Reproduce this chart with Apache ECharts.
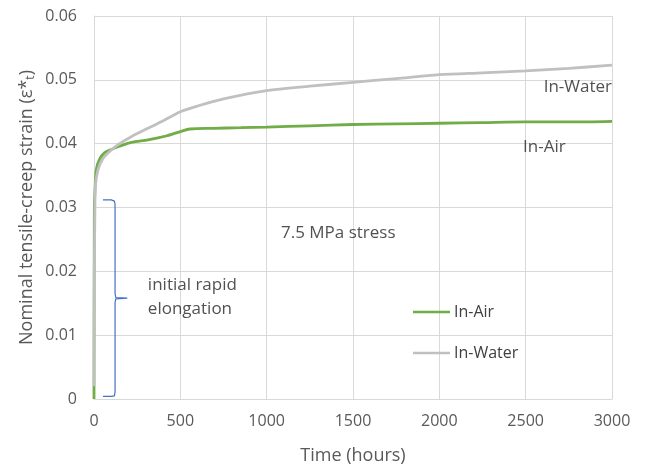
<!DOCTYPE html>
<html>
<head>
<meta charset="utf-8">
<script src="https://cdn.jsdelivr.net/npm/echarts@6/dist/echarts.min.js"></script>
<style>
  html, body { margin: 0; padding: 0; background: #fff; }
  #chart { width: 645px; height: 466px; }
</style>
</head>
<body>
<div id="chart"></div>
<script>
var airTime = [0, 2, 5, 13, 33, 62, 100, 148, 216, 313, 417, 500, 556, 690, 850, 1000, 1250, 1500, 1750, 2000, 2250, 2500, 2750, 3000];
var airStrain = [0, 0.0300, 0.0323, 0.0359, 0.0376, 0.0386, 0.0391, 0.0396, 0.0402, 0.0406, 0.0412, 0.0419, 0.0423, 0.0424, 0.0425, 0.0426, 0.0428, 0.0430, 0.0431, 0.0432, 0.0433, 0.0434, 0.0434, 0.0435];

var waterTime = [0, 2, 5, 8, 23, 52, 100, 148, 216, 313, 409, 500, 600, 750, 1000, 1250, 1500, 1750, 2000, 2250, 2500, 2750, 3000];
var waterStrain = [0.002, 0.020, 0.029, 0.0333, 0.0359, 0.0377, 0.0390, 0.0400, 0.0411, 0.0424, 0.0437, 0.0450, 0.0459, 0.0470, 0.0483, 0.0490, 0.0496, 0.0502, 0.0508, 0.0511, 0.0514, 0.0518, 0.0523];

// brace annotation ("initial rapid elongation"), in data units
var braceTime = [52, 100, 118, 122, 122, 126, 193, 126, 122, 122, 118, 100, 52];
var braceStrain = [0.0312, 0.0312, 0.0310, 0.0305, 0.0165, 0.0159, 0.0158, 0.0157, 0.0151, 0.0011, 0.0005, 0.0004, 0.0004];

// text notes inside the plot
var noteText = ['7.5 MPa stress', 'initial rapid\nelongation', 'In-Water', 'In-Air'];
var noteTime = [1083, 312, 3000, 2485];
var noteStrain = [0.0260, 0.0159, 0.0489, 0.0395];
var noteAlign = ['left', 'left', 'right', 'left'];

var xTicks = [0, 500, 1000, 1500, 2000, 2500, 3000];
var yTicks = [0, 0.01, 0.02, 0.03, 0.04, 0.05, 0.06];

function pairs(xs, ys) {
  return xs.map(function(x, i) { return [x, ys[i]]; });
}

var font = 'Open Sans, Liberation Sans, sans-serif';
var grayText = '#595959';
var gridColor = '#d9d9d9';
var green = '#70ad47';
var gray = '#c0c0c0';

var chart = echarts.init(document.getElementById('chart'), null, { renderer: 'canvas' });
chart.setOption({
  animation: false,
  textStyle: { fontFamily: font },
  grid: { left: 94, right: 33, top: 16, bottom: 67, outerBoundsMode: 'none', containLabel: false },
  legend: {
    orient: 'vertical',
    left: 408,
    top: 297,
    icon: 'rect',
    itemWidth: 37,
    itemHeight: 2.5,
    itemGap: 21,
    textStyle: { color: '#404040', fontSize: 16, lineHeight: 20, fontFamily: font, padding: [0, 0, 0, -1] },
    data: ['In-Air', 'In-Water']
  },
  xAxis: {
    type: 'value',
    min: xTicks[0],
    max: xTicks[xTicks.length - 1],
    interval: 500,
    name: 'Time (hours)',
    nameLocation: 'middle',
    nameGap: 48,
    nameTextStyle: { color: grayText, fontSize: 18, fontFamily: font },
    axisLine: { show: true, lineStyle: { color: gridColor } },
    axisTick: { show: false },
    axisLabel: { color: grayText, fontSize: 16, margin: 14, formatter: function(v) { return String(v); } },
    splitLine: { show: true, lineStyle: { color: gridColor, width: 1 } }
  },
  yAxis: {
    type: 'value',
    min: yTicks[0],
    max: yTicks[yTicks.length - 1],
    interval: 0.01,
    name: 'Nominal tensile-creep strain (ε*{sub|t})',
    nameLocation: 'middle',
    nameGap: 57,
    nameMoveOverlap: false,
    nameRotate: 90,
    nameTextStyle: {
      color: grayText, fontSize: 18, fontFamily: font,
      rich: { sub: { fontSize: 12, color: grayText, verticalAlign: 'bottom', padding: [9, 0, 0, 0] } }
    },
    axisLine: { show: true, lineStyle: { color: gridColor } },
    axisTick: { show: false },
    axisLabel: {
      color: grayText, fontSize: 16, margin: 17,
      formatter: function(v) { return v === 0 ? '0' : v.toFixed(2); }
    },
    splitLine: { show: true, lineStyle: { color: gridColor, width: 1 } }
  },
  series: [
    {
      name: 'In-Air',
      type: 'line',
      data: pairs(airTime, airStrain),
      showSymbol: false,
      symbol: 'none',
      smooth: 0.3,
      lineStyle: { color: green, width: 2.8 },
      itemStyle: { color: green },
      z: 3
    },
    {
      name: 'In-Water',
      type: 'line',
      data: pairs(waterTime, waterStrain),
      showSymbol: false,
      symbol: 'none',
      smooth: 0.3,
      lineStyle: { color: gray, width: 2.8 },
      itemStyle: { color: gray },
      z: 4
    },
    {
      name: 'brace',
      type: 'line',
      data: pairs(braceTime, braceStrain),
      showSymbol: false,
      symbol: 'none',
      lineStyle: { color: '#4472c4', width: 1.2 },
      silent: true,
      z: 5
    },
    {
      name: 'notes',
      type: 'scatter',
      silent: true,
      symbolSize: 1,
      itemStyle: { color: 'rgba(0,0,0,0)' },
      z: 6,
      data: noteText.map(function(t, i) {
        return {
          value: [noteTime[i], noteStrain[i]],
          label: {
            show: true,
            position: 'inside',
            formatter: t,
            align: noteAlign[i],
            color: '#262626',
            fontSize: 17,
            fontFamily: font,
            lineHeight: 24
          }
        };
      })
    }
  ]
});
</script>
</body>
</html>
